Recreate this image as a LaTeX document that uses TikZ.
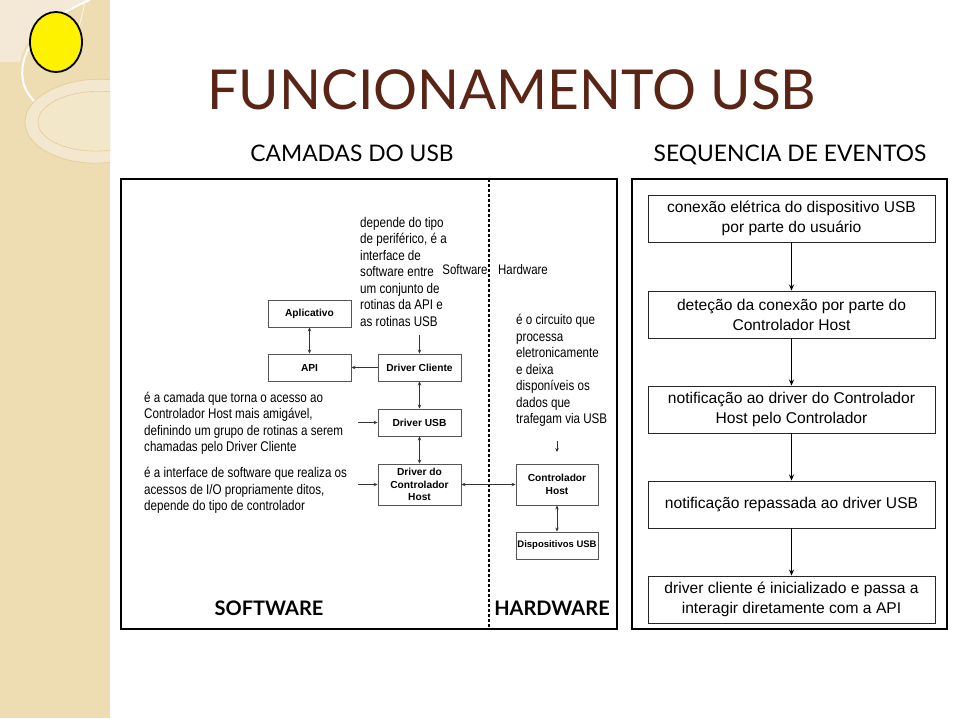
\documentclass[tikz,border=0pt]{standalone}
\usepackage{fontspec}
\setmainfont{Liberation Sans}
\newfontfamily\narrow[FakeStretch=0.83]{Liberation Sans}
\newfontfamily\titlefont{Lato}
\usetikzlibrary{arrows.meta}
\definecolor{stripe}{HTML}{EEDCB2}
\definecolor{stripelight}{HTML}{F3E9D6}
\definecolor{ringc}{HTML}{E4C995}
\definecolor{titlebrown}{HTML}{5A2416}
\definecolor{boxgray}{HTML}{555555}
\tikzset{
  panel/.style={draw=black, line width=2.6pt},
  layerbox/.style={draw=boxgray, line width=0.9pt, fill=white, minimum width=83pt, font=\bfseries\fontsize{10.2}{12.5}\selectfont, align=center, inner sep=1pt},
  eventbox/.style={draw=black!85, line width=0.9pt, fill=white, minimum width=287pt, minimum height=47pt, font=\fontsize{15.6}{20}\selectfont, align=center},
  note/.style={font=\narrow\fontsize{14}{16.5}\selectfont, align=left, inner sep=0pt, anchor=west},
  tip/.style={-{Stealth[length=4pt,width=3.5pt]}, line width=0.8pt, draw=black!80},
  dtip/.style={{Stealth[length=4pt,width=3.5pt]}-{Stealth[length=4pt,width=3.5pt]}, line width=0.8pt, draw=black!80},
  evarrow/.style={-{Stealth[length=6pt,width=5pt]}, line width=0.9pt},
}
\begin{document}
\begin{tikzpicture}[x=1pt,y=-1pt]
\useasboundingbox (0,0) rectangle (959,718);
\fill[white] (0,0) rectangle (959,718);
% decorative stripe
\fill[stripe] (0,0) rectangle (110,718);
\begin{scope}
  \clip (0,0) rectangle (110,718);
  \fill[stripelight] (0,0) -- (90,0) .. controls (50,15) and (25,35) .. (20,62) -- (0,62) -- cycle;
  \draw[white, line width=2pt] (90,0) .. controls (40,20) and (15,55) .. (24,85) .. controls (35,115) and (80,130) .. (112,130);
  \fill[ringc!45] (112,80) .. controls (70,75) and (25,95) .. (25,122) .. controls (25,150) and (70,168) .. (112,162) -- cycle;
  \fill[stripe!70!white] (112,92) .. controls (75,88) and (38,102) .. (38,122) .. controls (38,142) and (75,155) .. (112,150) -- cycle;
  \draw[ringc, line width=0.6pt] (112,80) .. controls (70,75) and (25,95) .. (25,122) .. controls (25,150) and (70,168) .. (112,162);
  \draw[ringc, line width=0.6pt] (112,92) .. controls (75,88) and (38,102) .. (38,122) .. controls (38,142) and (75,155) .. (112,150);
  \draw[white!80!stripe, line width=0.8pt] (85,0) .. controls (82,20) and (75,45) .. (60,60);
\end{scope}
\draw[black, line width=1.8pt, fill=yellow] (56,42) ellipse (26pt and 30pt);

% titles
\node[font=\titlefont\fontsize{55}{60}\selectfont, text=titlebrown, anchor=base, inner sep=0pt] (title) at (512,109) {FUNCIONAMENTO USB};
\node[font=\titlefont\fontsize{22.8}{24}\selectfont, anchor=base, inner sep=0pt] (ltitle) at (352,161) {CAMADAS DO USB};
\node[font=\titlefont\fontsize{22.8}{24}\selectfont, anchor=base, inner sep=0pt] (rtitle) at (790,161) {SEQUENCIA DE EVENTOS};

% panels
\draw[panel] (121,179) rectangle (617,629);
\draw[panel] (632,179) rectangle (947,629);
\draw[black, line width=2pt, dash pattern=on 3pt off 2pt] (489,179) -- (489,629);

% layer boxes
\node[layerbox, minimum height=27pt] (apl) at (309.5,313.5) {Aplicativo};
\node[layerbox, minimum height=27pt] (api) at (309.5,367.5) {API};
\node[layerbox, minimum height=27pt] (dcl) at (419.5,367.5) {Driver Cliente};
\node[layerbox, minimum height=27pt] (dusb) at (419.5,422.5) {Driver USB};
\node[layerbox, minimum height=41pt] (dch) at (419.5,484.5) {Driver do\\Controlador\\Host};
\node[layerbox, minimum height=41pt, minimum width=82pt] (ch) at (557,484.5) {Controlador\\Host};
\node[layerbox, minimum height=27pt, minimum width=82pt, font=\bfseries\fontsize{9.5}{11}\selectfont] (dusbd) at (557,545.5) {Dispositivos USB};

% notes
\node[note] (n1) at (360,271.5) {depende do tipo\\de periférico, é a\\interface de\\software entre\\um conjunto de\\rotinas da API e\\as rotinas USB};
\node[note] (n2) at (144,423.5) {é a camada que torna o acesso ao\\Controlador Host mais amigável,\\definindo um grupo de rotinas a serem\\chamadas pelo Driver Cliente};
\node[note] (n3) at (144,490.5) {é a interface de software que realiza os\\acessos de I/O propriamente ditos,\\depende do tipo de controlador};
\node[note] (n4) at (516,370.5) {é o circuito que\\processa\\eletronicamente\\e deixa\\disponíveis os\\dados que\\trafegam via USB};
\node[font=\narrow\fontsize{13.8}{14}\selectfont, inner sep=0pt] (sw) at (465,270) {Software};
\node[font=\narrow\fontsize{13.8}{14}\selectfont, inner sep=0pt] (hw) at (523,270) {Hardware};

\node[font=\titlefont\bfseries\fontsize{20}{22}\selectfont, inner sep=0pt] (swb) at (269,608) {SOFTWARE};
\node[font=\titlefont\bfseries\fontsize{20}{22}\selectfont, inner sep=0pt] (hwb) at (552,608) {HARDWARE};

% connectors
\draw[dtip] (apl) -- (api);
\draw[tip] (dcl) -- (api);
\draw[dtip] (dcl) -- (dusb);
\draw[dtip] (dusb) -- (dch);
\draw[dtip] (dch) -- (ch);
\draw[dtip] (ch) -- (dusbd);
\coordinate (a1s) at (419.5,335);
\draw[tip] (a1s) -- (dcl);
\coordinate (a2s) at (557,441);
\coordinate (a2e) at (557,452);
\draw[tip] (a2s) -- (a2e);
\coordinate (a3s) at (358,422.5);
\draw[tip] (a3s) -- (dusb);
\coordinate (a4s) at (358,484.5);
\draw[tip] (a4s) -- (dch);

% events
\node[eventbox] (e1) at (791.5,218.5) {conexão elétrica do dispositivo USB\\por parte do usuário};
\node[eventbox] (e2) at (791.5,314.5) {deteção da conexão por parte do\\Controlador Host};
\node[eventbox] (e3) at (791.5,409.5) {notificação ao driver do Controlador\\Host pelo Controlador};
\node[eventbox] (e4) at (791.5,504.5) {notificação repassada ao driver USB};
\node[eventbox] (e5) at (791.5,599.5) {driver cliente é inicializado e passa a\\interagir diretamente com a API};
\draw[evarrow] (e1) -- (e2);
\draw[evarrow] (e2) -- (e3);
\draw[evarrow] (e3) -- (e4);
\draw[evarrow] (e4) -- (e5);
\end{tikzpicture}
\end{document}
